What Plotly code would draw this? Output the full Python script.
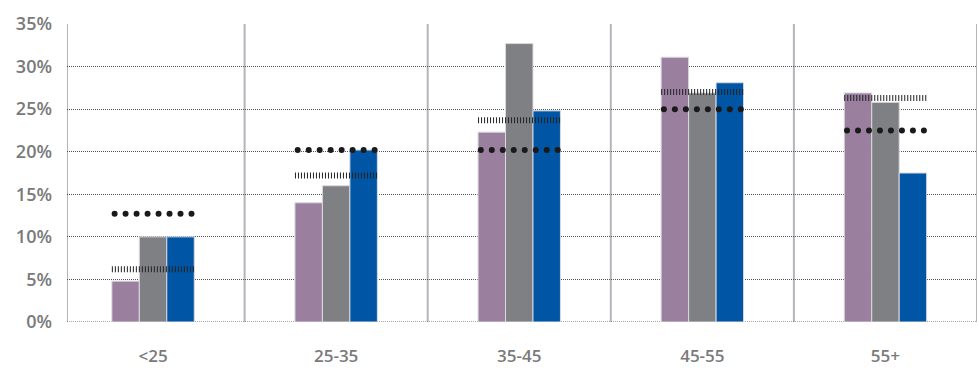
import numpy as np
import plotly.graph_objects as go

# Age bands and shares (%)
categories = ["<25", "25-35", "35-45", "45-55", "55+"]
series_a = [4.8, 14.0, 22.3, 31.1, 26.9]
series_b = [10.0, 16.0, 32.7, 26.9, 25.8]
series_c = [10.0, 20.2, 24.8, 28.1, 17.5]
# Reference levels drawn over each group
ref_dotted = [12.7, 20.2, 20.2, 25.0, 22.5]
ref_hatched = [6.2, 17.2, 23.7, 27.0, 26.3]
y_ticks = [0, 5, 10, 15, 20, 25, 30, 35]
y_labels = [f"{t}%" for t in y_ticks]

colors = ["#9a7f9f", "#7f8084", "#0055a5"]
idx = np.arange(len(categories))
half_group = 0.225

fig = go.Figure()
for vals, col in zip([series_a, series_b, series_c], colors):
    fig.add_trace(go.Bar(
        x=idx, y=vals, marker=dict(color=col, line=dict(color="#d9d9de", width=1)),
        showlegend=False, hoverinfo="y"))

# Hatched reference segments: thick line with a fine dash gives vertical ticks
for i, v in enumerate(ref_hatched):
    fig.add_trace(go.Scatter(
        x=[i - half_group, i + half_group], y=[v, v], mode="lines",
        line=dict(color="#222222", width=6, dash="1px,2px"),
        showlegend=False, hoverinfo="skip"))

# Dotted reference rows: eight round markers per group
for i, v in enumerate(ref_dotted):
    xs = np.linspace(i - half_group + 0.015, i + half_group - 0.015, 8)
    fig.add_trace(go.Scatter(
        x=xs, y=[v] * len(xs), mode="markers",
        marker=dict(color="#1a1a1a", size=6),
        showlegend=False, hoverinfo="skip"))

x_left = -0.47
x_right = len(categories) - 0.5
# Solid vertical separators between age bands, plus both outer edges
for xv in [x_left] + [i + 0.5 for i in idx]:
    fig.add_shape(type="line", xref="x", yref="paper", x0=xv, x1=xv, y0=0, y1=1,
                  line=dict(color="#b4b4ba", width=2), layer="below")
# Dotted baseline at 0%
fig.add_shape(type="line", xref="paper", yref="y", x0=0, x1=1, y0=0, y1=0,
              line=dict(color="#555555", width=1, dash="1px,1px"), layer="below")

fig.update_layout(
    width=979, height=374,
    margin=dict(l=67, r=2, t=24, b=52),
    paper_bgcolor="white", plot_bgcolor="white",
    barmode="group", bargap=0.55, bargroupgap=0,
    font=dict(family="Open Sans", color="#808080", size=16),
)
fig.update_xaxes(
    range=[x_left, x_right], tickvals=list(idx), ticktext=categories,
    showgrid=False, zeroline=False, showline=False, ticks="",
    ticklabelstandoff=22, tickfont=dict(size=17, color="#7a7a7a", weight=600),
)
fig.update_yaxes(
    range=[0, 35], tickvals=y_ticks, ticktext=y_labels,
    showgrid=True, gridcolor="#555555", gridwidth=1, griddash="1px,1px",
    zeroline=False, showline=False, ticks="", ticklabelstandoff=14,
    tickfont=dict(size=18, color="#7a7a7a", weight=600),
)

fig.write_html("out.html")
